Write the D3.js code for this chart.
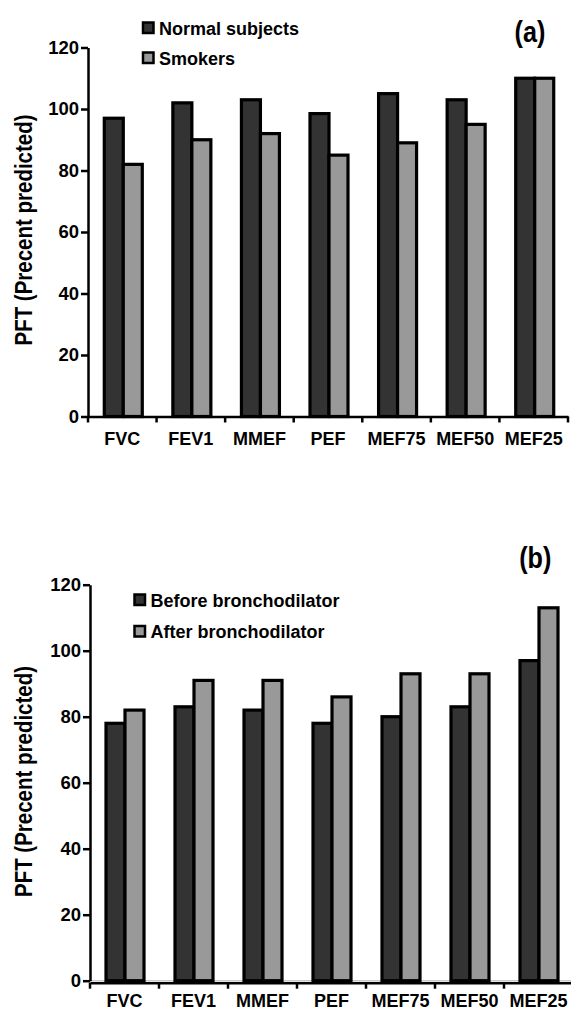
<!DOCTYPE html>
<html>
<head>
<meta charset="utf-8">
<script src="https://cdn.jsdelivr.net/npm/d3@7"></script>
<style>
body { margin: 0; background: #fff; }
text { font-family: "Liberation Sans", Arial, sans-serif; font-weight: bold; fill: #000; }
</style>
</head>
<body>
<div id="chart"></div>
<script>
// values (percent predicted)
const tests = ["FVC", "FEV1", "MMEF", "PEF", "MEF75", "MEF50", "MEF25"];
const normalSubjects = [97, 102, 103, 98.5, 105, 103, 110];
const smokers = [82, 90, 92, 85, 89, 95, 110];
const beforeBronchodilator = [78, 83, 82, 78, 80, 83, 97];
const afterBronchodilator = [82, 91, 91, 86, 93, 93, 113];
const yTicks = [0, 20, 40, 60, 80, 100, 120];

const fills = ["#333333", "#999999"];

const svg = d3.select("#chart").append("svg")
    .attr("width", 571)
    .attr("height", 1011);

function drawPanel(p) {
    let g = svg.append("g");

    let x = d3.scaleBand().domain(tests).range([p.left, p.right]);
    let y = d3.scaleLinear().domain([0, 120]).range([p.bottom, p.top]);
    let groupWidth = 38;
    let sub = d3.scaleBand().domain([0, 1]).range([0, groupWidth]);
    let off = (x.bandwidth() - groupWidth) / 2 + p.shift;

    let rows = tests.map((t, i) => ({ t: t, vals: [p.series[0][i], p.series[1][i]] }));

    // faint baseline (panel b has one)
    if (p.baseline) {
        g.append("line")
            .attr("x1", p.left).attr("x2", p.right)
            .attr("y1", y(0)).attr("y2", y(0))
            .attr("stroke", "#c8c8c8").attr("stroke-width", 1.5);
    }

    g.selectAll("g.grp")
        .data(rows)
        .join("g")
        .attr("class", "grp")
        .attr("transform", d => "translate(" + (x(d.t) + off) + ",0)")
        .selectAll("rect")
        .data(d => d.vals.map((v, k) => ({ v: v, k: k })))
        .join("rect")
        .attr("x", d => sub(d.k))
        .attr("width", sub.bandwidth())
        .attr("y", d => y(d.v))
        .attr("height", d => y(0) - y(d.v))
        .attr("fill", d => fills[d.k])
        .attr("stroke", "#000")
        .attr("stroke-width", 3.2);

    // y axis
    let yAxis = d3.axisLeft(y).tickValues(yTicks).tickSize(7).tickSizeOuter(0).tickPadding(2);
    let yg = g.append("g")
        .attr("transform", "translate(" + p.left + ",0)")
        .call(yAxis);
    yg.select(".domain").attr("stroke-width", 2.5);
    yg.selectAll(".tick line").attr("stroke-width", 2.5);
    yg.selectAll("text").style("font-size", "18.5px");

    // x axis: labels centred in bands, tick marks on band boundaries
    let xAxis = d3.axisBottom(x).tickSize(0).tickSizeOuter(0).tickPadding(p.labelPad);
    let xg = g.append("g")
        .attr("transform", "translate(0," + (y(0) + p.xAxisDrop) + ")")
        .call(xAxis);
    xg.select(".domain").attr("stroke-width", 2.5);
    xg.selectAll("text").style("font-size", "18px");

    let bounds = tests.map(t => x(t)).concat([p.right]);
    xg.selectAll("line.bound")
        .data(bounds)
        .join("line")
        .attr("class", "bound")
        .attr("x1", d => d).attr("x2", d => d)
        .attr("y1", 0).attr("y2", 6)
        .attr("stroke", "#000").attr("stroke-width", 2.5);

    // y axis title
    g.append("text")
        .attr("transform", "translate(" + p.titleX + "," + p.titleY + ") rotate(-90) scale(1,1.2)")
        .attr("text-anchor", "middle")
        .style("font-size", "20.5px")
        .text("PFT (Precent predicted)");

    // panel letter
    g.append("text")
        .attr("transform", "translate(" + p.letterX + "," + p.letterY + ") scale(0.9,1.05)")
        .attr("text-anchor", "middle")
        .style("font-size", "28px")
        .text(p.letter);

    // legend
    let leg = g.selectAll("g.leg")
        .data(p.names)
        .join("g")
        .attr("class", "leg")
        .attr("transform", (d, i) => "translate(" + p.legX + "," + (p.legY + i * p.legStep) + ")");
    leg.append("rect")
        .attr("x", 0).attr("y", 0)
        .attr("width", 10.5).attr("height", 10.5)
        .attr("fill", (d, i) => fills[i])
        .attr("stroke", "#000")
        .attr("stroke-width", 2.5);
    leg.append("text")
        .attr("x", 16)
        .attr("y", 12)
        .style("font-size", "18px")
        .text(d => d);
}

drawPanel({
    left: 88, right: 568, top: 47.5, bottom: 416.5, shift: 1,
    series: [normalSubjects, smokers],
    names: ["Normal subjects", "Smokers"],
    legX: 143, legY: 22.5, legStep: 30,
    titleX: 31.5, titleY: 230,
    letter: "(a)", letterX: 530, letterY: 41.6,
    xAxisDrop: 0, baseline: false, labelPad: 16
});

drawPanel({
    left: 90, right: 573, top: 584.7, bottom: 980.7, shift: 0.5,
    series: [beforeBronchodilator, afterBronchodilator],
    names: ["Before bronchodilator", "After bronchodilator"],
    legX: 134.5, legY: 594.5, legStep: 31.5,
    titleX: 31.5, titleY: 781.5,
    letter: "(b)", letterX: 535.3, letterY: 568.2,
    xAxisDrop: 2, baseline: true, labelPad: 11.5
});
</script>
</body>
</html>
